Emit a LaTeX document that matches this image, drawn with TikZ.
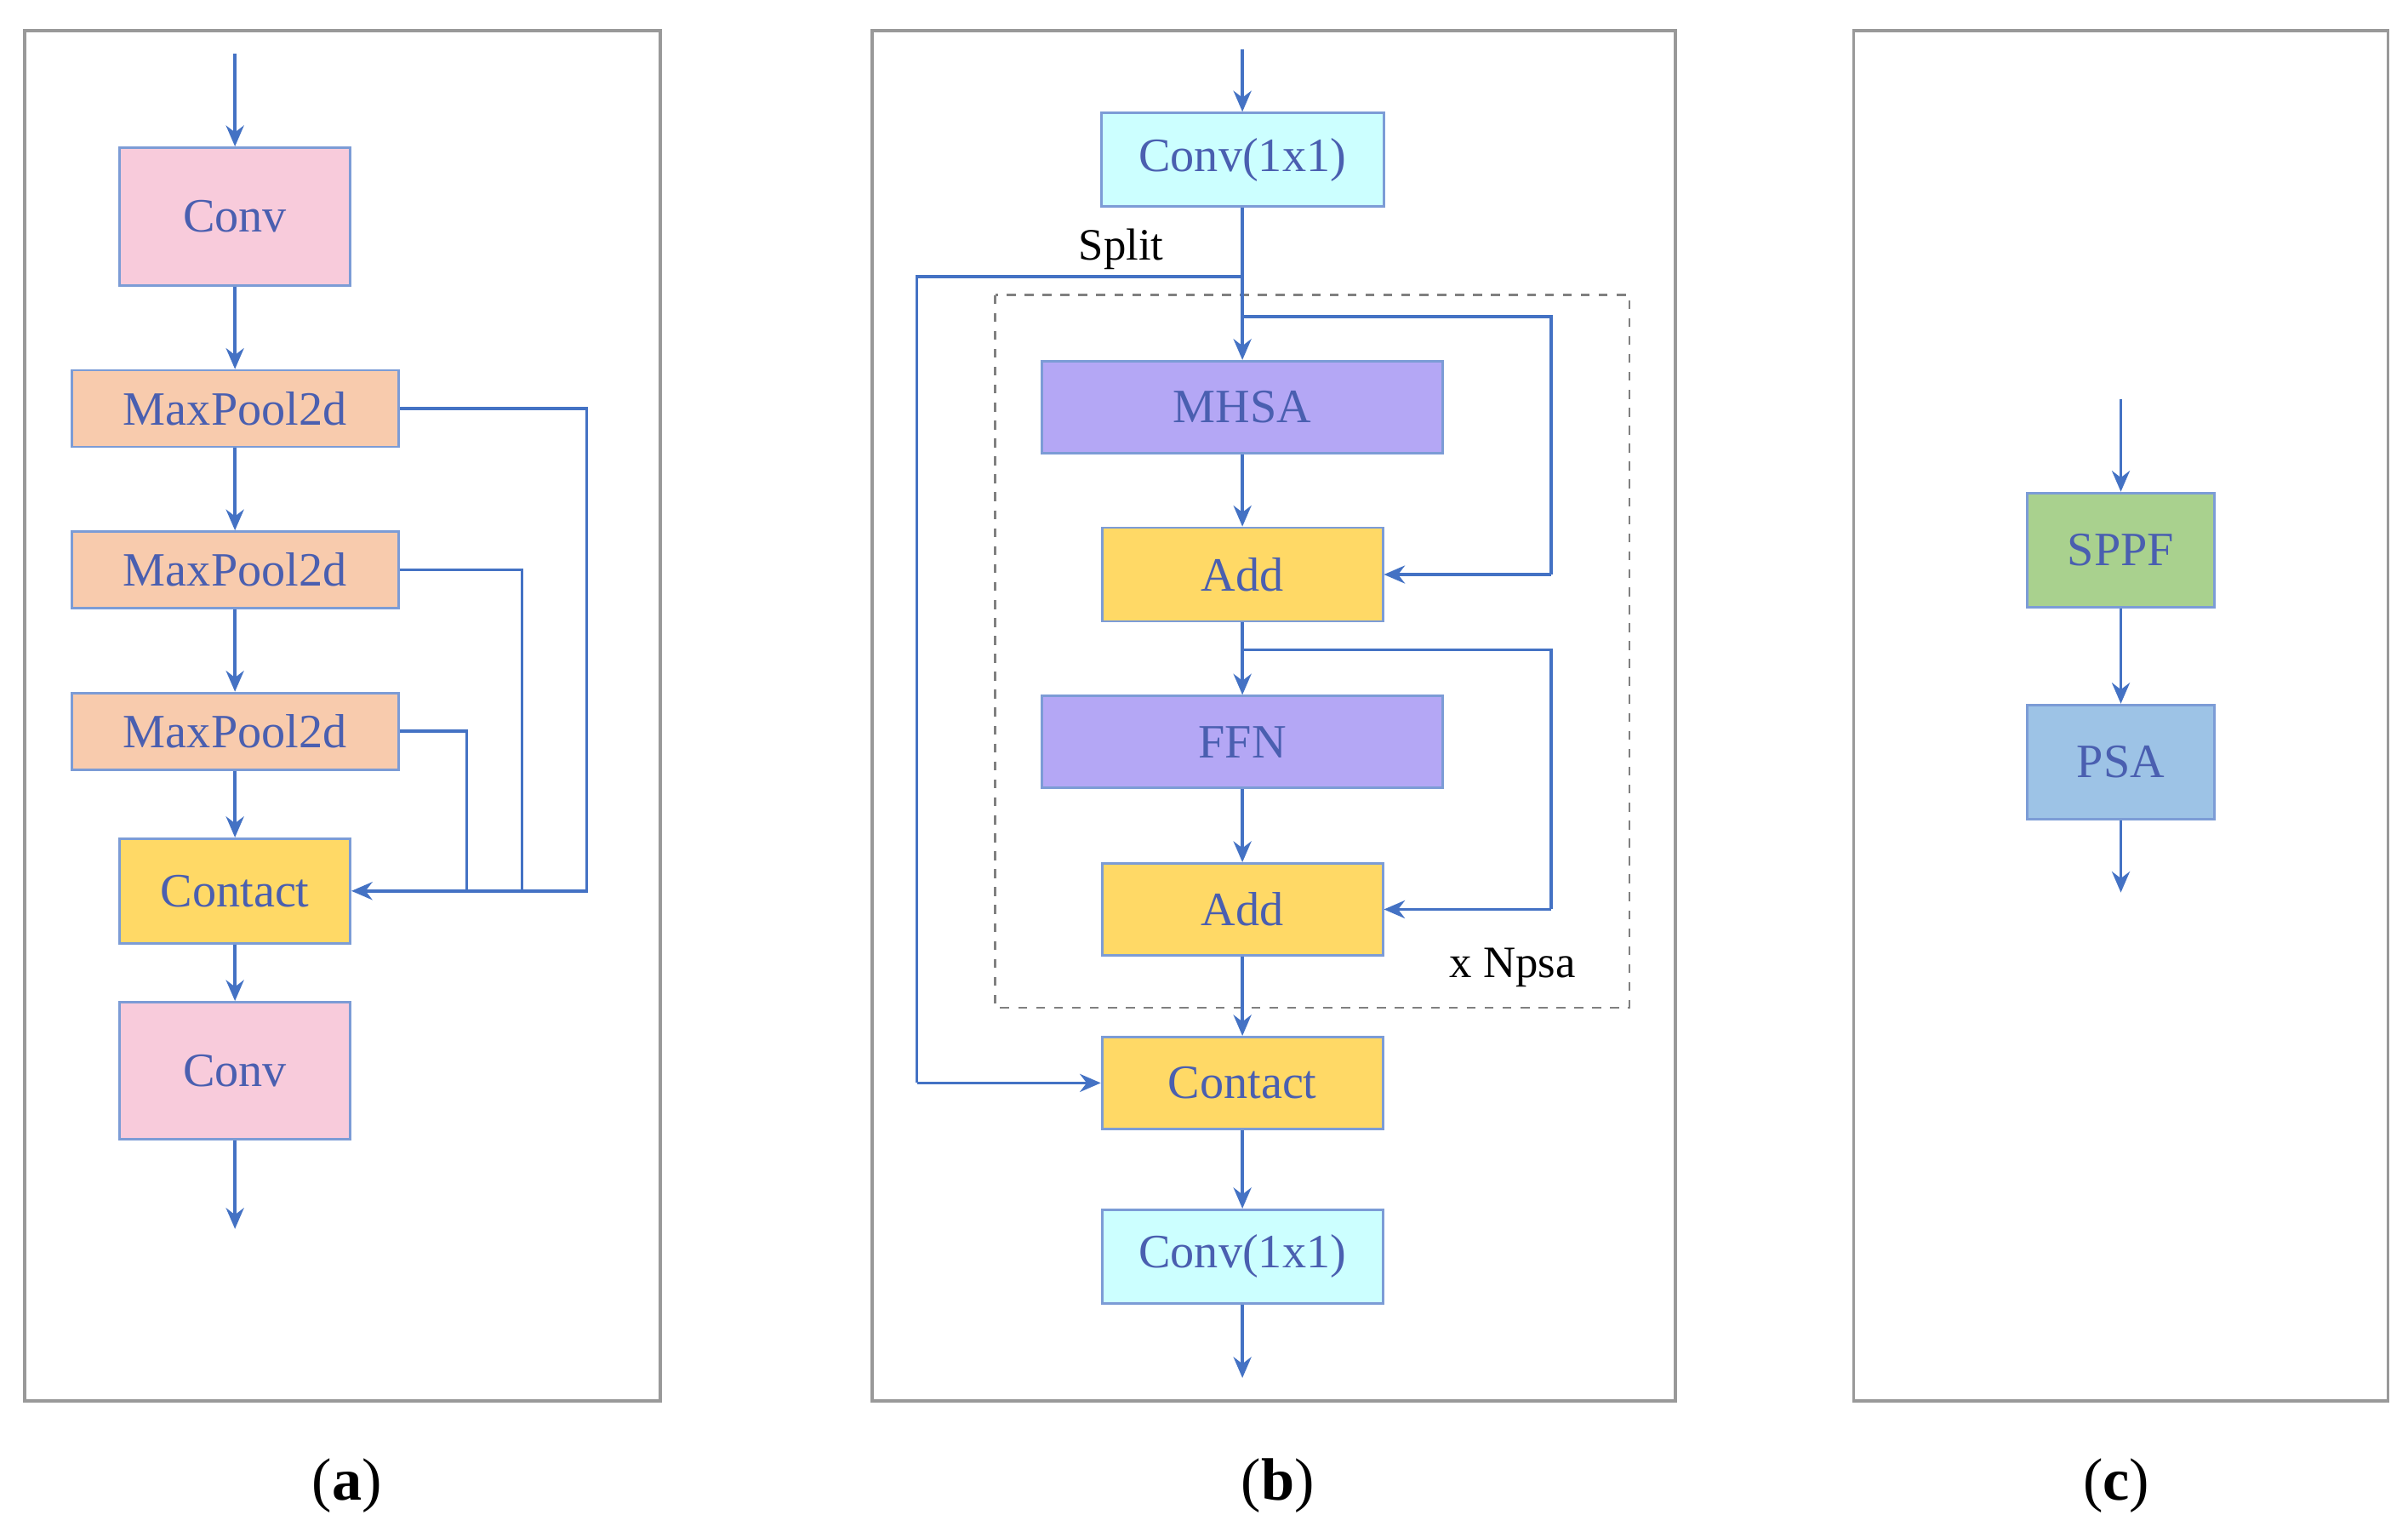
\documentclass[tikz,border=0pt]{standalone}
\usepackage{fontspec}
\setmainfont{Liberation Serif}
\usetikzlibrary{arrows.meta}
\definecolor{ln}{HTML}{4472C4}
\definecolor{tx}{HTML}{4A5FB0}
\definecolor{cpink}{HTML}{F8CBDB}
\definecolor{corange}{HTML}{F8CBAD}
\definecolor{cyel}{HTML}{FFD966}
\definecolor{ccyan}{HTML}{CCFFFF}
\definecolor{cpur}{HTML}{B4A7F5}
\definecolor{cgreen}{HTML}{A9D18E}
\definecolor{cblue}{HTML}{9DC3E6}
\begin{document}
\begin{tikzpicture}[x=0.01805cm,y=-0.01805cm,
  box/.style={draw=ln!70,line width=0.8pt,text=tx,font=\fontsize{16}{18}\selectfont,inner sep=0pt},
  frame/.style={draw=gray!80,line width=1pt},
  ar/.style={draw=ln,line width=1pt,-{Stealth[length=7pt,width=6pt]}},
  ln/.style={draw=ln,line width=1pt},
  captxt/.style={font=\fontsize{20}{22}\selectfont}]
\useasboundingbox (0,0) rectangle (1568,997);
\fill[white] (0,0) rectangle (1568,997);
% frames
\draw[frame] (16,20) rectangle (430,912);
\draw[frame] (568,20) rectangle (1091,912);
\draw[frame] (1207,20) rectangle (1555,912);
% panel a
\node[box,fill=cpink,minimum width=2.71cm,minimum height=1.62cm] (a1) at (153,141) {Conv};
\node[box,fill=corange,minimum width=3.84cm,minimum height=0.9cm] (a2) at (153,266) {MaxPool2d};
\node[box,fill=corange,minimum width=3.84cm,minimum height=0.9cm] (a3) at (153,371) {MaxPool2d};
\node[box,fill=corange,minimum width=3.84cm,minimum height=0.9cm] (a4) at (153,476) {MaxPool2d};
\node[box,fill=cyel,minimum width=2.71cm,minimum height=1.23cm] (a5) at (153,580) {Contact};
\node[box,fill=cpink,minimum width=2.71cm,minimum height=1.61cm] (a6) at (153,697) {Conv};
\coordinate (ain) at (153,35); \coordinate (aout) at (153,800);
\draw[ar] (ain) -- (a1);
\draw[ar] (a1) -- (a2);
\draw[ar] (a2) -- (a3);
\draw[ar] (a3) -- (a4);
\draw[ar] (a4) -- (a5);
\draw[ar] (a5) -- (a6);
\draw[ar] (a6) -- (aout);
\draw[ln] (a2.east) -- (382,266) -- (382,580) -- (304,580);
\draw[ln] (a3.east) -- (340,371) -- (340,580);
\draw[ln] (a4.east) -- (304,476) -- (304,580);
\draw[ar] (304,580) -- (a5.east);
% panel b
\draw[gray,dashed,line width=0.8pt] (648,192) rectangle (1061,656);
\node[box,fill=ccyan,minimum width=3.32cm,minimum height=1.1cm] (b1) at (809,104) {Conv(1x1)};
\node[box,fill=cpur,minimum width=4.71cm,minimum height=1.08cm] (b2) at (809,265) {MHSA};
\node[box,fill=cyel,minimum width=3.3cm,minimum height=1.1cm] (b3) at (809,374) {Add};
\node[box,fill=cpur,minimum width=4.71cm,minimum height=1.08cm] (b4) at (809,483) {FFN};
\node[box,fill=cyel,minimum width=3.3cm,minimum height=1.08cm] (b5) at (809,592) {Add};
\node[box,fill=cyel,minimum width=3.3cm,minimum height=1.08cm] (b6) at (809,705) {Contact};
\node[box,fill=ccyan,minimum width=3.3cm,minimum height=1.1cm] (b7) at (809,818) {Conv(1x1)};
\coordinate (bin) at (809,32); \coordinate (bout) at (809,897);
\draw[ar] (bin) -- (b1);
\draw[ar] (b1) -- (b2);
\draw[ar] (b2) -- (b3);
\draw[ar] (b3) -- (b4);
\draw[ar] (b4) -- (b5);
\draw[ar] (b5) -- (b6);
\draw[ar] (b6) -- (b7);
\draw[ar] (b7) -- (bout);
\draw[ln] (809,180) -- (597,180) -- (597,705);
\draw[ar] (597,705) -- (b6.west);
\draw[ln] (809,206) -- (1010,206) -- (1010,374);
\draw[ar] (1010,374) -- (b3.east);
\draw[ln] (809,423) -- (1010,423) -- (1010,592);
\draw[ar] (1010,592) -- (b5.east);
\node[font=\fontsize{15}{17}\selectfont] (split) at (730,162) {Split};
\node[font=\fontsize{15}{17}\selectfont] (np) at (985,630) {x Npsa};
% panel c
\node[box,fill=cgreen,minimum width=2.2cm,minimum height=1.34cm] (c1) at (1381,358) {SPPF};
\node[box,fill=cblue,minimum width=2.2cm,minimum height=1.34cm] (c2) at (1381,496) {PSA};
\coordinate (cin) at (1381,260); \coordinate (cout) at (1381,581);
\draw[ar] (cin) -- (c1);
\draw[ar] (c1) -- (c2);
\draw[ar] (c2) -- (cout);
% captions
\node[captxt] (la) at (226,967) {(\textbf{a})};
\node[captxt] (lb) at (832,967) {(\textbf{b})};
\node[captxt] (lc) at (1378,967) {(\textbf{c})};
\end{tikzpicture}
\end{document}
